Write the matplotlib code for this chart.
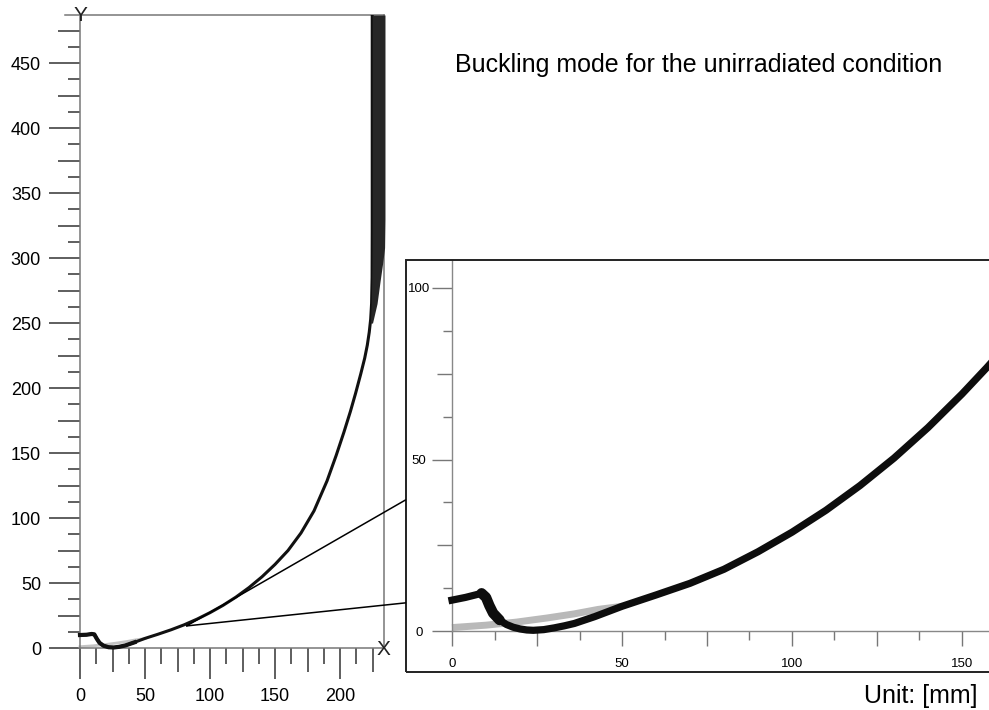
import numpy as np
import matplotlib
matplotlib.use("Agg")
import matplotlib.pyplot as plt
from matplotlib.patches import Rectangle, ConnectionPatch

plt.rcParams["font.family"] = ["Liberation Sans", "DejaVu Sans"]

# deformed shape (mm)
main_x = [0, 5, 9, 11, 13, 15, 18, 22, 26, 30, 35, 42, 50, 60, 70, 80, 90, 100, 110,
          120, 130, 140, 150, 160, 170, 180, 190, 197, 203, 208, 212, 216, 219, 221,
          222.5, 223.6, 224.3, 224.7, 224.8, 224.8]
main_y = [10, 10.2, 10.8, 10.5, 7, 4, 1.8, 0.6, 0.4, 0.9, 2.0, 4.4, 7.4, 10.6, 14.0,
          17.8, 22.2, 27.2, 32.8, 39.2, 46.5, 54.8, 64.3, 75.0, 88.5, 105.5, 128.5,
          148, 166, 182, 196, 211, 223, 233, 243, 253, 265, 285, 320, 487]

# thick upper end of the tube
band_y = [250, 265, 282, 296, 308, 330, 487]
band_left = [223.3, 224.0, 224.4, 224.6, 224.7, 224.8, 224.8]
band_right = [225.0, 228.5, 230.8, 232.8, 234.3, 234.6, 234.6]

# same shape
zoom_x = [0, 4, 6.8, 8.7, 10, 11, 12.1, 14, 16, 18, 20, 22, 23.9, 27, 30, 33, 36, 42,
          50, 60, 70, 80, 90, 100, 110, 120, 130, 140, 150, 157.3, 162]
zoom_y = [9.0, 9.8, 10.5, 11.0, 9.8, 7.4, 5.2, 3.2, 1.9, 1.1, 0.6, 0.3, 0.2, 0.4, 0.9,
          1.5, 2.2, 4.2, 7.2, 10.5, 13.9, 18.0, 23.1, 28.8, 35.2, 42.4, 50.4, 59.3,
          69.1, 76.8, 82.0]

# initial (undeformed) shape, gray
init_x = [0, 10, 19, 28, 36, 43, 50]
init_y = [1.0, 1.7, 2.6, 3.8, 5.0, 6.3, 7.2]

# zoom lines: from a point on the full view to the left edge of the enlarged view
conn_src = (82, 17)
conn_dst_y = [38.2, 8.2]

main_xlabels = [0, 50, 100, 150, 200]
main_ylabels = [0, 50, 100, 150, 200, 250, 300, 350, 400, 450]
zoom_xlabels = [0, 50, 100, 150]
zoom_ylabels = [0, 50, 100]

title = "Buckling mode for the unirradiated condition"
unit = "Unit: [mm]"

W, H = 989, 710
fig = plt.figure(figsize=(W / 100, H / 100), dpi=100)


def px_axes(left, top, right, bottom):
    return fig.add_axes([left / W, 1 - bottom / H, (right - left) / W, (bottom - top) / H])


def tick_lengths(axis, values, rule):
    for t, v in zip(axis.get_major_ticks(), values):
        t.tick1line.set_markersize(rule(v))


# ---- full view ----
ax = px_axes(28, 15, 398.5, 700)
ax.set_xlim(-40, 245)
ax.set_ylim(-40, 487)
ax.patch.set_alpha(0)

for s in ax.spines.values():
    s.set_color("#777777")
    s.set_linewidth(1.1)
ax.spines["left"].set_position(("data", 0))
ax.spines["left"].set_bounds(0, 487)
ax.spines["bottom"].set_position(("data", 0))
ax.spines["bottom"].set_bounds(0, 233)
ax.spines["top"].set_bounds(-11.5, 234.2)
ax.spines["right"].set_position(("data", 234.2))
ax.spines["right"].set_bounds(0, 487)

yt = np.arange(0, 476, 12.5)
xt = np.arange(0, 226, 12.5)
ax.set_yticks(yt)
ax.set_yticklabels([f"{v:g}" if v in main_ylabels else "" for v in yt])
ax.set_xticks(xt)
ax.set_xticklabels([f"{v:g}" if v in main_xlabels else "" for v in xt])
ax.tick_params(axis="y", direction="out", length=22.3, width=1.1, pad=5.8,
               labelsize=13, color="#333333")
ax.tick_params(axis="x", direction="out", length=22.3, width=1.1, pad=6.5,
               labelsize=13, color="#333333")
tick_lengths(ax.yaxis, yt, lambda v: 22.3 if v % 50 == 0 else (15.8 if v % 25 == 0 else 8.6))
tick_lengths(ax.xaxis, xt, lambda v: 22.3 if v % 50 == 0 else (17.3 if v % 25 == 0 else 11.5))

ax.plot(init_x, init_y, color="#c4c4c4", lw=2, zorder=2)
ax.plot(main_x, main_y, color="#111111", lw=2.2, zorder=3)
ax.plot(main_x[:12], main_y[:12], color="#111111", lw=3.0, zorder=3)
ax.fill_betweenx(band_y, band_left, band_right, color="#262626", lw=0, zorder=3)

ax.text(0, 486.5, "Y", ha="center", va="center", fontsize=15, color="#222222")
ax.text(233.5, -1.5, "X", ha="center", va="center", fontsize=15, color="#222222")

# ---- enlarged view ----
ins = px_axes(405.5, 260, 991, 672)
ins.set_xlim(-(452 - 405.5) / 3.4, (991 - 452) / 3.4)
ins.set_ylim(-(672 - 631) / 3.43, (631 - 260) / 3.43)
ins.add_patch(Rectangle((0, 0), 1, 1, transform=ins.transAxes, fill=False,
                        ec="#222222", lw=1.4, clip_on=False, zorder=5))
ins.spines["top"].set_visible(False)
ins.spines["right"].set_visible(False)
for side in ["left", "bottom"]:
    ins.spines[side].set_position(("data", 0))
    ins.spines[side].set_color("#888888")
    ins.spines[side].set_linewidth(1.0)
ins.spines["left"].set_bounds(0, ins.get_ylim()[1])
ins.spines["bottom"].set_bounds(0, ins.get_xlim()[1])

ixt = np.arange(0, 151, 12.5)
iyt = np.arange(0, 101, 12.5)
ins.set_xticks(ixt)
ins.set_xticklabels([f"{v:g}" if v in zoom_xlabels else "" for v in ixt])
ins.set_yticks(iyt)
ins.set_yticklabels([f"{v:g}" if v in zoom_ylabels else "" for v in iyt], ha="center")
ins.tick_params(axis="x", direction="out", length=10.8, width=1.0, pad=8.5,
                labelsize=9.5, color="#777777")
ins.tick_params(axis="y", direction="out", length=14.4, width=1.0, pad=9.4,
                labelsize=9.5, color="#777777")
tick_lengths(ins.xaxis, ixt, lambda v: 10.8 if v % 25 == 0 else 6.8)
tick_lengths(ins.yaxis, iyt, lambda v: 14.4 if v % 50 == 0 else (10.8 if v % 25 == 0 else 6.5))

ins.plot(init_x, init_y, color="#b9b9b9", lw=5.0, solid_capstyle="butt", zorder=2)
ins.plot(zoom_x, zoom_y, color="#0d0d0d", lw=5.2, solid_joinstyle="round", zorder=3)
# the kink is drawn heavier in the source figure
ins.plot(zoom_x[3:8], zoom_y[3:8], color="#0d0d0d", lw=7.5, solid_joinstyle="round",
         solid_capstyle="round", zorder=3)

for yb in conn_dst_y:
    con = ConnectionPatch(xyA=conn_src, coordsA=ax.transData,
                          xyB=(ins.get_xlim()[0], yb), coordsB=ins.transData,
                          color="black", lw=1.1)
    fig.add_artist(con)

fig.text(698.5 / W, 1 - 72 / H, title, ha="center", va="baseline", fontsize=18)
fig.text(978 / W, 1 - 703 / H, unit, ha="right", va="baseline", fontsize=18)

fig.savefig("out.png", dpi=100)
